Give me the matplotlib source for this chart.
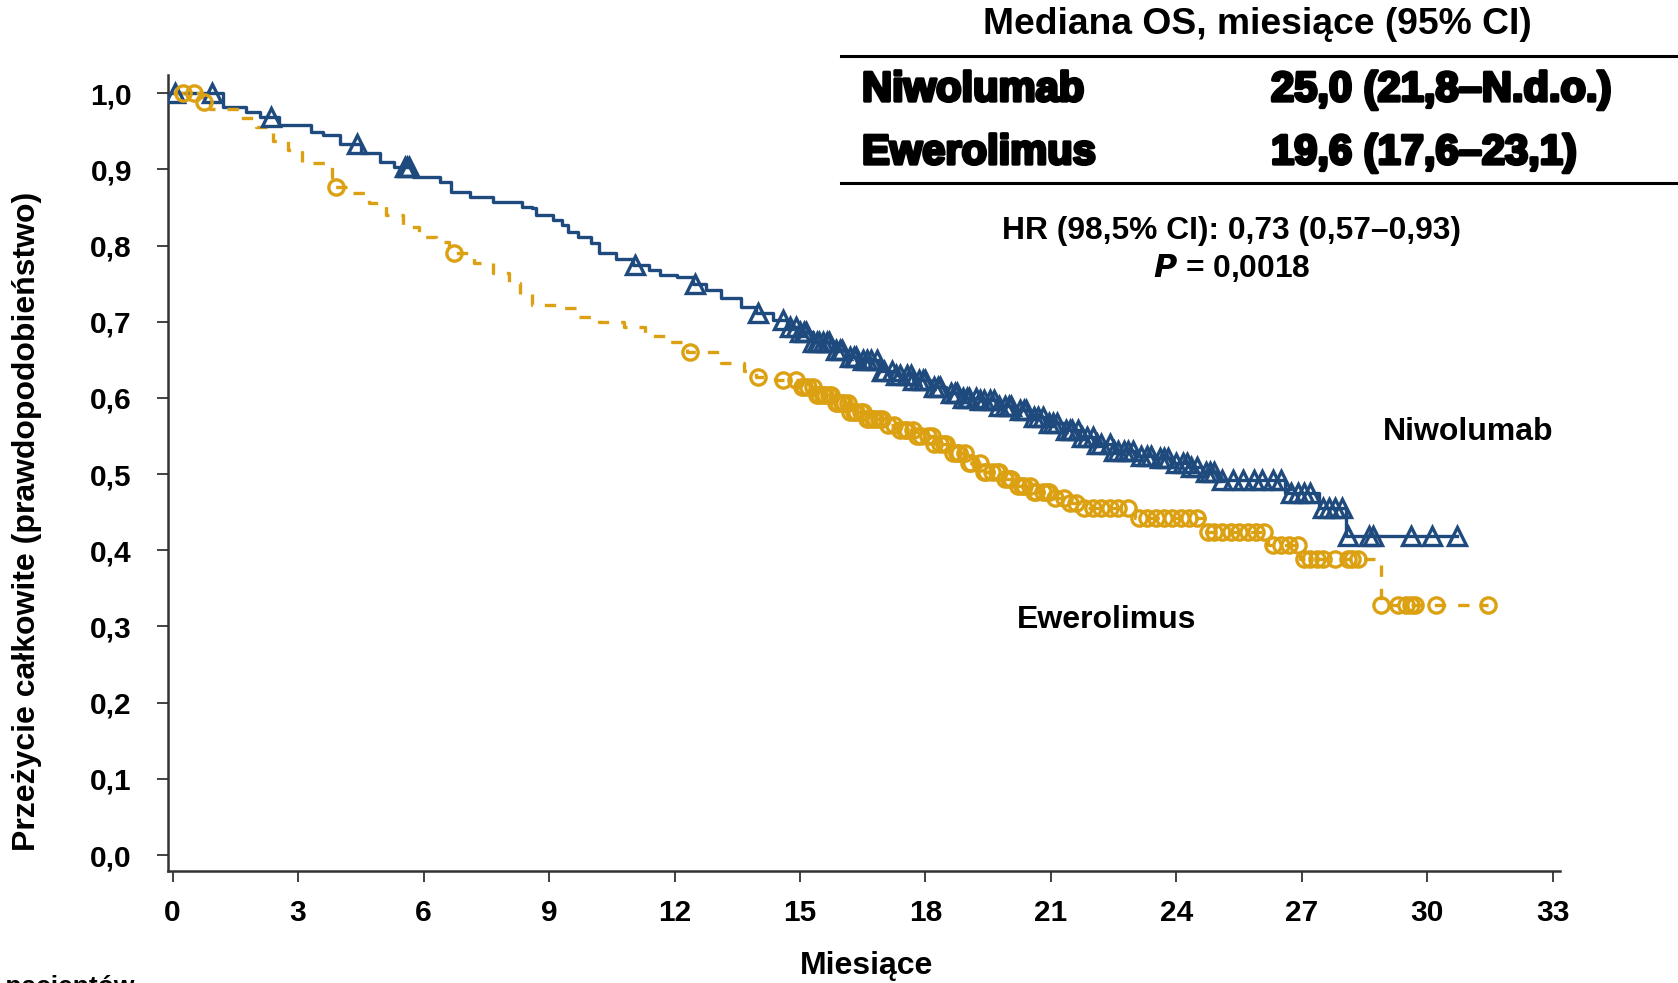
import numpy as np
import matplotlib
matplotlib.use('Agg')
import matplotlib.pyplot as plt
from matplotlib.lines import Line2D
import matplotlib.patheffects as pe

plt.rcParams['font.family'] = ['Liberation Sans', 'DejaVu Sans']
plt.rcParams['font.weight'] = 'bold'

W, H = 1678, 983

# Niwolumab: KM steps (time in months, survival after the step)
nivo_times = [0, 1.2, 1.75, 2.1, 2.55, 3.3, 3.6, 4.0, 4.5, 4.95, 5.3, 5.75, 6.4, 6.65,
              7.1, 7.65, 8.35, 8.6, 8.7, 9.1, 9.3, 9.45, 9.7, 10.0, 10.2, 10.6, 11.0,
              11.4, 11.65, 12.05, 12.45, 12.75, 13.1, 13.6, 13.95, 14.35, 14.7, 15.0,
              15.3, 15.8, 16.1, 16.4, 16.9, 17.3, 17.7, 18.1, 18.5, 18.9, 19.3, 19.7,
              20.1, 20.5, 20.9, 21.3, 21.7, 22.1, 22.5, 23.0, 23.5, 23.9, 24.3, 24.6,
              25.0, 26.6, 27.4, 28.05]
nivo_surv = [1.0, 0.982, 0.975, 0.969, 0.958, 0.949, 0.945, 0.934, 0.921, 0.910, 0.903,
             0.890, 0.884, 0.870, 0.864, 0.857, 0.851, 0.849, 0.840, 0.833, 0.827, 0.818,
             0.811, 0.803, 0.790, 0.783, 0.774, 0.768, 0.761, 0.759, 0.750, 0.742, 0.731,
             0.720, 0.711, 0.702, 0.693, 0.687, 0.674, 0.663, 0.654, 0.650, 0.636, 0.630,
             0.623, 0.614, 0.606, 0.600, 0.597, 0.590, 0.584, 0.575, 0.567, 0.558, 0.549,
             0.540, 0.531, 0.524, 0.521, 0.515, 0.509, 0.503, 0.492, 0.475, 0.455, 0.419]
nivo_censor = [0.05, 0.95, 2.35, 4.4, 5.55, 5.6, 5.65, 11.05, 12.5, 14.0, 14.6, 14.75,
               14.9, 15.0, 15.1, 15.15, 15.3, 15.4, 15.45, 15.55, 15.65, 15.7, 15.85,
               15.95, 16.0, 16.2, 16.3, 16.35, 16.5, 16.6, 16.7, 16.85, 16.95, 17.0,
               17.2, 17.3, 17.4, 17.55, 17.65, 17.7, 17.85, 17.95, 18.0, 18.2, 18.3,
               18.35, 18.6, 18.7, 18.75, 18.9, 19.0, 19.05, 19.2, 19.3, 19.4, 19.55,
               19.65, 19.75, 19.9, 20.0, 20.05, 20.25, 20.35, 20.4, 20.6, 20.7, 20.8,
               20.95, 21.05, 21.15, 21.35, 21.45, 21.5, 21.65, 21.75, 21.85, 22.0, 22.1,
               22.2, 22.4, 22.5, 22.6, 22.75, 22.85, 22.95, 23.15, 23.3, 23.4, 23.6,
               23.7, 23.8, 24.0, 24.15, 24.25, 24.35, 24.5, 24.7, 24.8, 24.9, 25.1,
               25.35, 25.6, 25.85, 26.05, 26.3, 26.5, 26.75, 26.9, 27.05, 27.2, 27.5,
               27.65, 27.8, 27.95, 28.1, 28.6, 28.7, 29.6, 30.1, 30.7]

# Ewerolimus
ever_times = [0, 0.7, 0.9, 1.6, 2.0, 2.4, 2.75, 3.1, 3.8, 4.25, 4.7, 5.1, 5.5, 5.9, 6.3,
              6.6, 7.2, 7.65, 8.05, 8.3, 8.6, 9.2, 9.7, 10.2, 10.8, 11.3, 11.8, 12.3,
              13.1, 13.65, 13.95, 14.4, 15.0, 15.4, 15.8, 16.2, 16.6, 17.0, 17.4, 17.8,
              18.2, 18.6, 19.0, 19.4, 19.8, 20.2, 20.6, 21.0, 21.4, 21.8, 23.0, 24.7,
              26.2, 26.95, 28.9]
ever_surv = [1.0, 0.989, 0.980, 0.967, 0.956, 0.938, 0.925, 0.908, 0.877, 0.869, 0.856,
             0.840, 0.825, 0.811, 0.805, 0.790, 0.777, 0.764, 0.751, 0.737, 0.722, 0.718,
             0.706, 0.700, 0.693, 0.682, 0.674, 0.660, 0.646, 0.636, 0.628, 0.623, 0.615,
             0.604, 0.593, 0.582, 0.572, 0.565, 0.558, 0.550, 0.540, 0.528, 0.515, 0.503,
             0.493, 0.485, 0.476, 0.469, 0.462, 0.456, 0.442, 0.424, 0.407, 0.388, 0.328]
ever_censor = [0.25, 0.5, 0.75, 3.9, 6.72, 12.37, 14.0, 14.6, 14.9, 15.05, 15.1, 15.2,
               15.3, 15.4, 15.45, 15.55, 15.6, 15.7, 15.75, 15.85, 15.9, 16.0, 16.05,
               16.15, 16.2, 16.3, 16.35, 16.45, 16.5, 16.6, 16.65, 16.75, 16.8, 16.9,
               16.95, 17.1, 17.25, 17.4, 17.5, 17.55, 17.7, 17.8, 17.9, 18.05, 18.15,
               18.2, 18.35, 18.45, 18.5, 18.65, 18.75, 18.8, 18.95, 19.05, 19.1, 19.3,
               19.4, 19.45, 19.6, 19.7, 19.75, 19.9, 20.0, 20.05, 20.2, 20.3, 20.35,
               20.5, 20.6, 20.65, 20.8, 20.9, 20.95, 21.1, 21.3, 21.45, 21.6, 21.8, 22.0,
               22.2, 22.4, 22.6, 22.85, 23.1, 23.3, 23.5, 23.7, 23.9, 24.1, 24.3, 24.5,
               24.75, 24.9, 25.1, 25.3, 25.5, 25.7, 25.9, 26.1, 26.3, 26.5, 26.7, 26.9,
               27.05, 27.2, 27.35, 27.5, 27.8, 28.1, 28.2, 28.35, 28.9, 29.3, 29.5, 29.6,
               29.7, 30.2, 31.45]

x_ticks = [0, 3, 6, 9, 12, 15, 18, 21, 24, 27, 30, 33]
y_ticks = [0.0, 0.1, 0.2, 0.3, 0.4, 0.5, 0.6, 0.7, 0.8, 0.9, 1.0]

BLUE = '#1f4a7d'
GOLD = '#dca112'


def step_value(times, surv, t):
    idx = np.searchsorted(np.asarray(times), np.asarray(t), side='right') - 1
    return np.asarray(surv)[idx]


def fx(px):
    return px / W


def fy(py):
    return 1 - py / H


fig = plt.figure(figsize=(W / 100, H / 100), dpi=100)
ax = fig.add_axes([fx(168), fy(871), fx(1560) - fx(168), fy(75) - fy(871)])

# curves
for times, surv, cens, color, ls, mk in [
        (nivo_times, nivo_surv, nivo_censor, BLUE, '-', '^'),
        (ever_times, ever_surv, ever_censor, GOLD, (0, (3.4, 3.6)), 'o')]:
    t_end = max(cens)
    xs = list(times) + [t_end]
    ys = list(surv) + [surv[-1]]
    ax.step(xs, ys, where='post', color=color, lw=2.4, ls=ls, zorder=3)
    cy = step_value(times, surv, cens)
    ax.plot(cens, cy, ls='none', marker=mk, ms=12.5 if mk == '^' else 11,
            mfc='none', mec=color, mew=2.4, zorder=4)

ax.set_xlim(-0.11, 33.17)
ax.set_ylim(-0.021, 1.024)
ax.set_xticks(x_ticks)
ax.set_xticklabels([str(v) for v in x_ticks])
ax.set_yticks(y_ticks)
ax.set_yticklabels([f'{v:.1f}'.replace('.', ',') for v in y_ticks])
ax.tick_params(axis='both', length=8, width=1.3, color='#333333', labelsize=21.5)
ax.tick_params(axis='x', pad=12)
ax.tick_params(axis='y', pad=18)
for side in ['top', 'right']:
    ax.spines[side].set_visible(False)
for side in ['left', 'bottom']:
    ax.spines[side].set_linewidth(1.8)
    ax.spines[side].set_color('#333333')

# axis titles
fig.text(fx(27), fy(521), 'Przeżycie całkowite (prawdopodobieństwo)', rotation=90,
         ha='center', va='center', fontsize=23)
fig.text(fx(867), fy(966), 'Miesiące', ha='center', va='center', fontsize=23)
fig.text(fx(134), fy(975), 'Liczba pacjentów', ha='right', va='top', fontsize=19)

# table
fig.text(fx(1257), fy(24), 'Mediana OS, miesiące (95% CI)', ha='center', va='center',
         fontsize=26.8)
fig.add_artist(Line2D([fx(841), 1.0], [fy(56), fy(56)], color='black', lw=2.2))
fig.add_artist(Line2D([fx(841), 1.0], [fy(183), fy(183)], color='black', lw=2.2))
heavy = [pe.withStroke(linewidth=2.4, foreground='black')]
for label, val, yy in [('Niwolumab', '25,0 (21,8–N.d.o.)', 90),
                       ('Ewerolimus', '19,6 (17,6–23,1)', 153)]:
    fig.text(fx(862), fy(yy), label, ha='left', va='center', fontsize=30,
             path_effects=heavy)
    fig.text(fx(1271), fy(yy), val, ha='left', va='center', fontsize=30,
             path_effects=heavy)
fig.text(fx(1232), fy(231), 'HR (98,5% CI): 0,73 (0,57–0,93)', ha='center',
         va='center', fontsize=22.9)
fig.text(fx(1232), fy(268), r'$\bfit{P}$ = 0,0018', ha='center', va='center',
         fontsize=22.9)

# curve labels
ax.text(28.93, 0.555, 'Niwolumab', ha='left', va='center', fontsize=23)
ax.text(20.18, 0.308, 'Ewerolimus', ha='left', va='center', fontsize=23)

fig.savefig('out.png', dpi=100)
